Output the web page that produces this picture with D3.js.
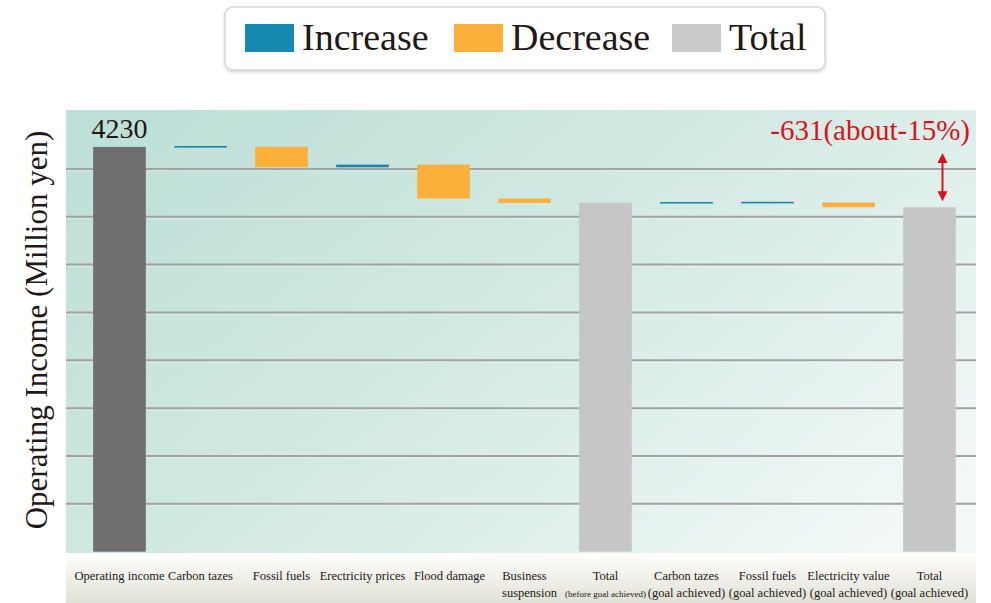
<!DOCTYPE html>
<html><head><meta charset="utf-8">
<script src="https://cdn.jsdelivr.net/npm/d3@7"></script>
<style>
html,body{margin:0;padding:0;background:#fff;}
svg{display:block;font-family:"Liberation Serif","DejaVu Serif",serif;}
</style></head>
<body>
<svg id="chart" width="991" height="603"></svg>
<script>
// ---- data ----
const categories = [
  ["Operating income"], ["Carbon tazes"], ["Fossil fuels"], ["Erectricity prices"],
  ["Flood damage"], ["Business", "suspension"], ["Total", "(before goal achieved)"],
  ["Carbon tazes", "(goal achieved)"], ["Fossil fuels", "(goal achieved)"],
  ["Electricity value", "(goal achieved)"], ["Total", "(goal achieved)"]
];
const types  = ["start", "inc", "dec", "inc", "dec", "dec", "total", "inc", "inc", "dec", "total"];
const values = [4230, 2, -215, 28, -355, -45, null, 2, 2, -50, null];
const legendLabels = ["Increase", "Decrease", "Total"];
const gridValues = [500, 1000, 1500, 2000, 2500, 3000, 3500, 4000];
const yTitle = "Operating Income (Million yen)";

const colors = {start: "#6f6f6f", inc: "#1589b0", dec: "#fbb03b", total: "#c6c6c6"};
const legendColors = [colors.inc, colors.dec, "#cacaca"];

// ---- compute waterfall ----
let run = 0;
const bars = categories.map((c, i) => {
  const t = types[i];
  let a, b;
  if (t === "start") { a = 0; b = values[i]; run = values[i]; }
  else if (t === "total") { a = 0; b = run; }
  else { a = run; b = run + values[i]; run = b; }
  return {i, t, a, b, label: c};
});

const svg = d3.select("#chart");
const defs = svg.append("defs");

const plot = {x0: 66, x1: 976, y0: 110, y1: 553};

// backgrounds
const g1 = defs.append("linearGradient").attr("id", "bg").attr("x1", 0).attr("y1", 0.2).attr("x2", 1).attr("y2", 0.8);
g1.append("stop").attr("offset", 0).attr("stop-color", "#bfe0d8");
g1.append("stop").attr("offset", 0.45).attr("stop-color", "#d2e9e3");
g1.append("stop").attr("offset", 1).attr("stop-color", "#f1f8f6");
const g2 = defs.append("linearGradient").attr("id", "lab").attr("x1", 0).attr("y1", 0).attr("x2", 0).attr("y2", 1);
g2.append("stop").attr("offset", 0).attr("stop-color", "#fdfdfb");
g2.append("stop").attr("offset", 1).attr("stop-color", "#e2e1d7");
const sh = defs.append("filter").attr("id", "shadow").attr("x", -0.05).attr("y", -0.2).attr("width", 1.1).attr("height", 1.5);
sh.append("feDropShadow").attr("dx", 0).attr("dy", 1.5).attr("stdDeviation", 1.5).attr("flood-color", "#000").attr("flood-opacity", 0.18);

svg.append("rect").attr("x", plot.x0).attr("y", plot.y0).attr("width", plot.x1 - plot.x0).attr("height", plot.y1 - plot.y0).attr("fill", "url(#bg)");
svg.append("rect").attr("x", plot.x0).attr("y", 555).attr("width", plot.x1 - plot.x0).attr("height", 48).attr("fill", "url(#lab)");

// scales
const x = d3.scaleBand().domain(d3.range(categories.length)).range([79, 970]).paddingInner(0.35).paddingOuter(0.175);
const k = 0.0957;
const y = d3.scaleLinear().domain([0, 4600]).range([551.7, 551.7 - 4600 * k]);

// gridlines
svg.append("g").selectAll("line").data(gridValues).join("line")
  .attr("x1", plot.x0).attr("x2", plot.x1)
  .attr("y1", d => y(d)).attr("y2", d => y(d))
  .attr("stroke", "#a2a2a2").attr("stroke-width", 2);
svg.append("g").selectAll("line").data(gridValues).join("line")
  .attr("x1", plot.x0).attr("x2", plot.x1)
  .attr("y1", d => y(d) + 1.8).attr("y2", d => y(d) + 1.8)
  .attr("stroke", "#ffffff").attr("stroke-opacity", 0.35).attr("stroke-width", 1);

// bars
svg.append("g").selectAll("rect").data(bars).join("rect")
  .attr("x", d => x(d.i)).attr("width", x.bandwidth())
  .attr("y", d => {
    const top = Math.min(y(d.a), y(d.b)), h = Math.abs(y(d.a) - y(d.b));
    return h < 1.6 ? (top + h / 2 - 0.8) : top;
  })
  .attr("height", d => Math.max(1.6, Math.abs(y(d.a) - y(d.b))))
  .attr("fill", d => colors[d.t]);

// start value label
svg.append("text").attr("x", x(0) + x.bandwidth() / 2).attr("y", y(bars[0].b) - 9)
  .attr("text-anchor", "middle").attr("font-size", 28).attr("fill", "#231815")
  .text(values[0]);

// annotation
const startVal = bars[0].b, endVal = bars[bars.length - 1].b;
const diff = endVal - startVal;
const pct = Math.round(diff / startVal * 100);
const cx = x(categories.length - 1) + x.bandwidth() / 2 + 13;
svg.append("text").attr("x", 970).attr("y", 140).attr("text-anchor", "end")
  .attr("font-size", 29).attr("fill", "#d7141c")
  .text(`${diff}(about${pct}%)`);
const yTop = y(startVal) + 6, yBot = y(endVal) - 6;
svg.append("line").attr("x1", cx).attr("x2", cx).attr("y1", yTop + 8).attr("y2", yBot - 8)
  .attr("stroke", "#d7141c").attr("stroke-width", 2);
svg.append("path").attr("d", `M${cx},${yTop} L${cx - 5},${yTop + 10} L${cx + 5},${yTop + 10} Z`).attr("fill", "#d7141c");
svg.append("path").attr("d", `M${cx},${yBot} L${cx - 5},${yBot - 10} L${cx + 5},${yBot - 10} Z`).attr("fill", "#d7141c");

// x labels
const xl = svg.append("g").attr("fill", "#231815");
bars.forEach(d => {
  const c = x(d.i) + x.bandwidth() / 2;
  d.label.forEach((s, j) => {
    const small = s.startsWith("(before");
    xl.append("text").attr("x", c + (d.i === 5 && j === 1 ? 5 : 0) + (d.i === 4 ? 6 : 0))
      .attr("y", j === 0 ? 580 : 597)
      .attr("text-anchor", "middle").attr("font-size", small ? 9 : 12.5).text(s);
  });
});

// y title
svg.append("text").attr("transform", `translate(47,330) rotate(-90)`)
  .attr("text-anchor", "middle").attr("font-size", 31).attr("fill", "#231815").text(yTitle);

// legend
const lg = svg.append("g");
lg.append("rect").attr("x", 225).attr("y", 7).attr("width", 600).attr("height", 63).attr("rx", 8)
  .attr("fill", "#fff").attr("stroke", "#d6d6d6").attr("stroke-width", 1.5).attr("filter", "url(#shadow)");
const lx = [245, 454, 672];
legendLabels.forEach((s, i) => {
  lg.append("rect").attr("x", lx[i]).attr("y", 24).attr("width", 49).attr("height", 28).attr("fill", legendColors[i]);
  lg.append("text").attr("x", lx[i] + 57).attr("y", 50).attr("font-size", 38).attr("fill", "#231815").text(s);
});
</script>
</body></html>
